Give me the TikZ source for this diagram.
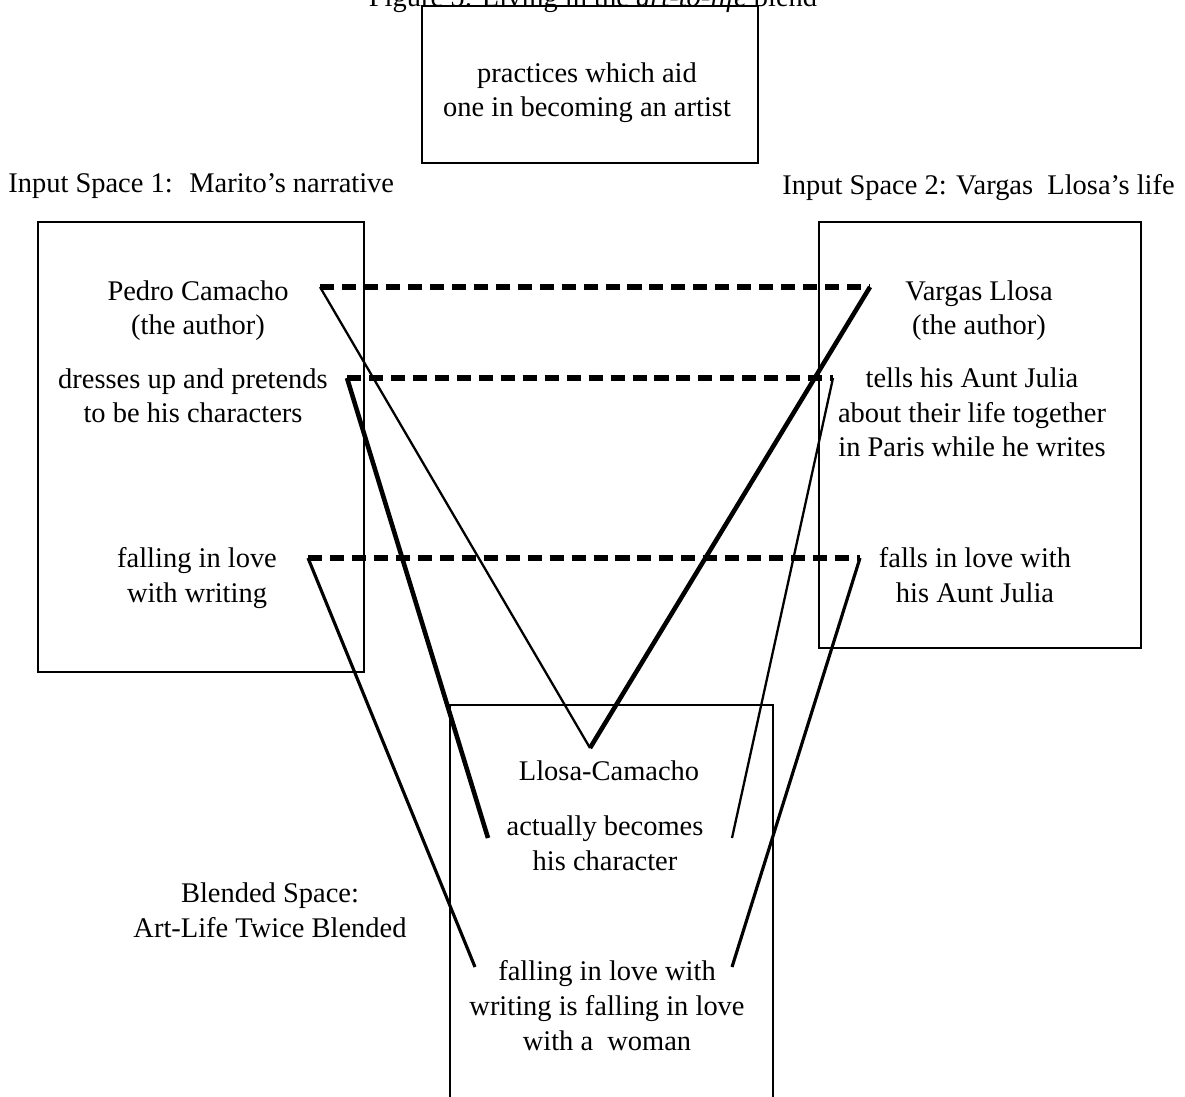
\documentclass[tikz,border=0pt]{standalone}
\usepackage{fontspec}
\setmainfont{Liberation Serif}
\usepackage{tikz}

\begin{document}
\begin{tikzpicture}[x=0.02cm,y=-0.02cm,
    every node/.style={font=\fontsize{16.2}{19.9}\selectfont,inner sep=0pt,align=center},
    space/.style={draw,line width=1.1pt},
    map/.style={line width=3pt,dash pattern=on 8pt off 4.5pt},
    link/.style={line width=1.3pt},
    linkmid/.style={line width=1.8pt},
    linkthick/.style={line width=2.6pt}]
    \useasboundingbox (0,0) rectangle (1185,1097);
    \node[anchor=base] (title) at (593,7) {Figure 5: Living in the \textit{art-to-life} blend};
    \draw[space] (422,6) rectangle (758,163);
    \node[anchor=base] (generic) at (587,117) {practices which aid\\one in becoming an artist};
    \node[anchor=base west] (in1) at (8,193) {Input Space 1:~ Marito’s narrative};
    \node[anchor=base east] (in2) at (1175,195) {Input Space 2: Vargas\ \ Llosa’s life};
    \draw[space] (38,222) rectangle (364,672);
    \draw[space] (819,222) rectangle (1141,648);
    \draw[space] (450,705) rectangle (773,1120);
    \node[anchor=base] (pedro) at (198,335) {Pedro Camacho\\(the author)};
    \node[anchor=base] (dresses) at (193,423) {dresses up and pretends\\to be his characters};
    \node[anchor=base] (fallw) at (197,602) {falling in love\\with writing};
    \node[anchor=base] (vargas) at (979,335) {Vargas Llosa\\(the author)};
    \node[anchor=base] (tells) at (972,457) {tells his Aunt Julia\\about their life together\\in Paris while he writes};
    \node[anchor=base] (falls) at (975,602) {falls in love with\\his Aunt Julia};
    \node[anchor=base] (llosa) at (609,780) {Llosa-Camacho};
    \node[anchor=base] (becomes) at (605,870) {actually becomes\\his character};
    \node[anchor=base] (blendlove) at (607,1050) {falling in love with\\writing is falling in love\\with a~ woman};
    \node[anchor=base] (blended) at (270,937) {Blended Space:\\Art-Life Twice Blended};
    % ends of the mappings
    \coordinate (pedro-e) at (320,287);
    \coordinate (vargas-w) at (870,287);
    \coordinate (dresses-e) at (347,378);
    \coordinate (tells-w) at (833,378);
    \coordinate (fallw-e) at (308,558);
    \coordinate (falls-w) at (860,558);
    \coordinate (tip) at (590,748);
    \coordinate (becomes-l) at (488,838);
    \coordinate (becomes-r) at (732,838);
    \coordinate (love-l) at (475,967);
    \coordinate (love-r) at (732,967);
    \draw[map] (pedro-e) -- (vargas-w);
    \draw[map] (dresses-e) -- (tells-w);
    \draw[map] (fallw-e) -- (falls-w);
    \draw[link] (pedro-e) -- (tip);
    \draw[linkthick] (vargas-w) -- (tip);
    \draw[linkthick] (dresses-e) -- (becomes-l);
    \draw[link] (tells-w) -- (becomes-r);
    \draw[linkmid] (fallw-e) -- (love-l);
    \draw[linkmid] (falls-w) -- (love-r);
\end{tikzpicture}
\end{document}
